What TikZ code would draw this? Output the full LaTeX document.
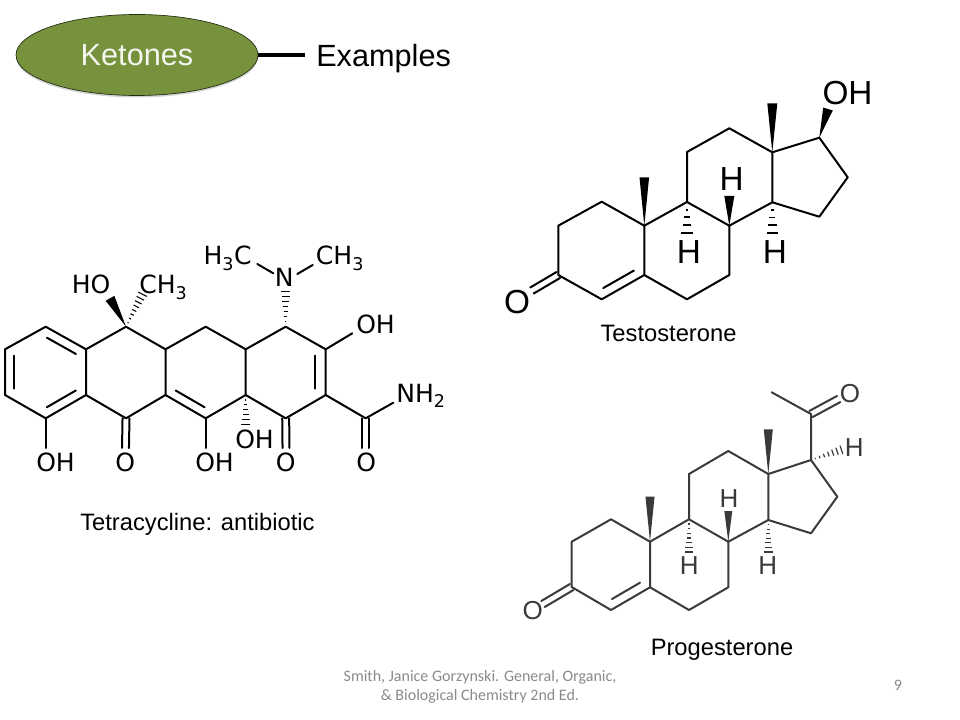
\documentclass[tikz,border=0pt]{standalone}
\usepackage{fontspec}
\setmainfont{Liberation Sans}
\newfontfamily\chemfont{DejaVu Sans}
\newfontfamily\footfont{Carlito}
\usetikzlibrary{calc,shapes.geometric,shadows}
\definecolor{oliveleaf}{HTML}{76923C}
\definecolor{bondgray}{HTML}{3A3A3A}
\definecolor{footgray}{HTML}{8A8A8A}
\tikzset{
	bond/.style={line width=1.5pt, line cap=round, line join=round},
	chemlabel/.style={font=\chemfont\fontsize{18.8}{18.8}\selectfont, inner sep=0pt, anchor=base west},
	testolabel/.style={font=\fontsize{25}{25}\selectfont, inner sep=0pt, text depth=0pt},
	progelabel/.style={font=\fontsize{19.5}{19.5}\selectfont, inner sep=0pt, text depth=0pt, color=bondgray},
	caption/.style={font=\fontsize{17.8}{17.8}\selectfont, inner sep=0pt, text depth=0pt},
	footnote/.style={font=\footfont\fontsize{12}{14.25}\selectfont, color=footgray, inner sep=0pt}
}
\newcommand{\innerbond}[3]{\draw [bond] ($(#1)!.14!(#2)!#3!90:(#2)$) -- ($(#2)!.14!(#1)!#3!-90:(#1)$);}
\newcommand{\twinbond}[2]{
	\draw [bond] ($(#1)!2.6pt!90:(#2)$) -- ($(#2)!2.6pt!-90:(#1)$);
	\draw [bond] ($(#1)!2.6pt!-90:(#2)$) -- ($(#2)!2.6pt!90:(#1)$);
}
\newcommand{\wedgebond}[3]{\fill (#1) -- ($(#2)!#3!90:(#1)$) -- ($(#2)!#3!-90:(#1)$) -- cycle;}
\newcommand{\hashbond}[5]{
	\foreach \i in {1,...,#3} {
		\pgfmathsetmacro{\hf}{\i/(#3+.3)}
		\draw [line width=#5] ($(#1)!\hf!(#2)!\hf*#4!90:(#2)$) -- ($(#1)!\hf!(#2)!\hf*#4!-90:(#2)$);
	}
}
\begin{document}
\begin{tikzpicture}[x=0.75pt, y=-0.75pt]
	\useasboundingbox (0,0) rectangle (960,720);
	\node [ellipse, minimum width=181.5pt, minimum height=60.75pt, inner sep=0pt, text depth=0pt, fill=oliveleaf, draw=black!70!oliveleaf, line width=0.5pt, drop shadow={shadow xshift=0pt, shadow yshift=-1.5pt, opacity=0.35}, text=white!92!oliveleaf, font=\fontsize{23}{23}\selectfont] (ketones) at (137,55) {Ketones};
	\node [anchor=west, inner sep=0pt, inner xsep=8.25pt, text depth=0pt, font=\fontsize{23}{23}\selectfont] (examples) at (305,55) {Examples};
	\draw [line width=2.3pt] (ketones) -- (examples);

	\coordinate (ta1) at (45.7,326.7);
	\coordinate (ta2) at (5,349.3);
	\coordinate (ta3) at (5,395);
	\coordinate (ta4) at (45.7,418.3);
	\coordinate (ta5) at (86,395);
	\coordinate (ta6) at (86,349.3);
	\coordinate (tb1) at (126,326.7);
	\coordinate (tb2) at (165.5,349.3);
	\coordinate (tb3) at (165.5,395);
	\coordinate (tb4) at (126,418.3);
	\coordinate (tc1) at (205.7,326.7);
	\coordinate (tc2) at (205.7,418.3);
	\coordinate (td1) at (245.7,349.3);
	\coordinate (td2) at (245.7,395);
	\coordinate (te1) at (285.7,326.7);
	\coordinate (te2) at (285.7,418.3);
	\coordinate (tf1) at (325.7,349.3);
	\coordinate (tf2) at (325.7,395);
	\coordinate (tg) at (365.7,418.3);
	\coordinate (tohl) at (45.7,448);
	\coordinate (tohm) at (205.7,448);
	\coordinate (toa) at (125.5,448);
	\coordinate (tob) at (286,448);
	\coordinate (toc) at (365.7,448);
	\coordinate (tohr) at (352.3,333.3);
	\coordinate (tnh) at (393.3,402.7);
	\coordinate (tnl) at (273.3,273.3);
	\coordinate (tnr) at (297.3,274);
	\coordinate (tml) at (257.3,264);
	\coordinate (tmr) at (312.7,265);
	\coordinate (thn) at (285.7,290);
	\coordinate (tho) at (110,298.3);
	\coordinate (thm) at (143,293);
	\coordinate (thb) at (245.7,426);
	\draw [bond] (ta1) -- (ta2) -- (ta3) -- (ta4) -- (ta5) -- (ta6) -- cycle;
	\draw [bond] (ta6) -- (tb1) -- (tb2) -- (tb3) -- (tb4) -- (ta5);
	\draw [bond] (tb2) -- (tc1) -- (td1) -- (td2) -- (tc2) -- (tb3);
	\draw [bond] (td1) -- (te1) -- (tf1) -- (tf2) -- (te2) -- (td2);
	\draw [bond] (tf2) -- (tg) -- (tnh);
	\draw [bond] (tf1) -- (tohr);
	\draw [bond] (ta4) -- (tohl);
	\draw [bond] (tc2) -- (tohm);
	\draw [bond] (tml) -- (tnl);
	\draw [bond] (tnr) -- (tmr);
	\innerbond{ta1}{ta6}{-6.75pt}
	\innerbond{ta2}{ta3}{6.75pt}
	\innerbond{ta4}{ta5}{6.75pt}
	\innerbond{tb3}{tc2}{6.75pt}
	\innerbond{tf1}{tf2}{-8pt}
	\twinbond{tb4}{toa}
	\twinbond{te2}{tob}
	\twinbond{tg}{toc}
	\wedgebond{tb1}{tho}{3.75pt}
	\hashbond{tb1}{thm}{8}{3.75pt}{0.8pt}
	\hashbond{te1}{thn}{7}{3.75pt}{0.9pt}
	\hashbond{td2}{thb}{6}{3.75pt}{0.9pt}
	\node [chemlabel] (thotext) at (71.5,294) {HO};
	\node [chemlabel] (tch3a) at (139,294) {CH\textsubscript{3}};
	\node [chemlabel] (th3c) at (203.3,265) {H\textsubscript{3}C};
	\node [chemlabel] (tch3b) at (315.7,265) {CH\textsubscript{3}};
	\node [chemlabel] (tn) at (274.5,286.7) {N};
	\node [chemlabel] (toh1) at (356,333) {OH};
	\node [chemlabel] (tnh2) at (396,402.7) {NH\textsubscript{2}};
	\node [chemlabel] (toh2) at (235,448) {OH};
	\node [chemlabel] (toh3) at (36,471.7) {OH};
	\node [chemlabel] (tox1) at (115,471.7) {O};
	\node [chemlabel] (toh4) at (195,471.7) {OH};
	\node [chemlabel] (tox2) at (275.5,471.7) {O};
	\node [chemlabel] (tox3) at (356,471.7) {O};
	\node [caption, anchor=west] (tetracycline) at (80,522) {Tetracycline: antibiotic};

	\coordinate (s1) at (601.7,201.7);
	\coordinate (s2) at (558.3,225.7);
	\coordinate (s3) at (558.3,275);
	\coordinate (s4) at (601.7,299.3);
	\coordinate (s5) at (644.3,275);
	\coordinate (s10) at (644.3,225.7);
	\coordinate (s6) at (687,299.3);
	\coordinate (s7) at (729.3,275);
	\coordinate (s8) at (729.3,225.7);
	\coordinate (s9) at (687,202);
	\coordinate (s11) at (687,152);
	\coordinate (s12) at (729.3,128.3);
	\coordinate (s13) at (772.3,152.3);
	\coordinate (s14) at (772.3,202.3);
	\coordinate (s15) at (819.3,216.7);
	\coordinate (s16) at (847.7,177.3);
	\coordinate (s17) at (819.3,137.7);
	\coordinate (smeta) at (644.3,177.3);
	\coordinate (smetb) at (772.3,103.3);
	\coordinate (sohw) at (828,109);
	\coordinate (shw) at (729.3,196);
	\coordinate (shl) at (687,235);
	\coordinate (shr) at (772.3,235);
	\coordinate (sox) at (532,290.5);
	\draw [bond] (s1) -- (s2) -- (s3) -- (s4) -- (s5) -- (s10) -- cycle;
	\draw [bond] (s5) -- (s6) -- (s7) -- (s8) -- (s9) -- (s10);
	\draw [bond] (s9) -- (s11) -- (s12) -- (s13) -- (s14) -- (s8);
	\draw [bond] (s13) -- (s17) -- (s16) -- (s15) -- (s14);
	\innerbond{s4}{s5}{6.75pt}
	\twinbond{s3}{sox}
	\wedgebond{s10}{smeta}{3.6pt}
	\wedgebond{s13}{smetb}{3.75pt}
	\wedgebond{s17}{sohw}{3.75pt}
	\wedgebond{s8}{shw}{3.75pt}
	\hashbond{s9}{shl}{4}{4.6pt}{1.4pt}
	\hashbond{s14}{shr}{4}{4.6pt}{1.4pt}
	\node [testolabel] (sohtext) at (847.5,93) {OH};
	\node [testolabel] (shtop) at (731.7,179) {H};
	\node [testolabel] (shleft) at (689,252) {H};
	\node [testolabel] (shright) at (775,252) {H};
	\node [testolabel] (soxtext) at (517,302) {O};
	\node [caption] (testosterone) at (668.5,333) {Testosterone};

	\begin{scope}[color=bondgray]
		\coordinate (p1) at (611,519.3);
		\coordinate (p2) at (571.7,541.7);
		\coordinate (p3) at (571.7,587);
		\coordinate (p4) at (611,610);
		\coordinate (p5) at (650,587.3);
		\coordinate (p10) at (650,541.7);
		\coordinate (p6) at (689,610);
		\coordinate (p7) at (728.3,587.3);
		\coordinate (p8) at (728.3,541.7);
		\coordinate (p9) at (689,519.3);
		\coordinate (p11) at (689,474);
		\coordinate (p12) at (728.3,451);
		\coordinate (p13) at (768.3,474);
		\coordinate (p14) at (768.3,520);
		\coordinate (p15) at (811,533.3);
		\coordinate (p16) at (837.3,496.7);
		\coordinate (p17) at (811,460);
		\coordinate (p20) at (811,414);
		\coordinate (p21) at (771.7,392.3);
		\coordinate (pmeta) at (650,496.7);
		\coordinate (pmetb) at (768.3,429.3);
		\coordinate (phw) at (728.3,511);
		\coordinate (phr) at (842.7,449.3);
		\coordinate (phl) at (689,553.3);
		\coordinate (phm) at (768.3,553.3);
		\coordinate (pox) at (543,604);
		\coordinate (poy) at (838.7,399);
		\draw [bond] (p1) -- (p2) -- (p3) -- (p4) -- (p5) -- (p10) -- cycle;
		\draw [bond] (p5) -- (p6) -- (p7) -- (p8) -- (p9) -- (p10);
		\draw [bond] (p9) -- (p11) -- (p12) -- (p13) -- (p14) -- (p8);
		\draw [bond] (p13) -- (p17) -- (p16) -- (p15) -- (p14);
		\draw [bond] (p17) -- (p20) -- (p21);
		\innerbond{p4}{p5}{6.75pt}
		\twinbond{p3}{pox}
		\twinbond{p20}{poy}
		\wedgebond{p10}{pmeta}{3.4pt}
		\wedgebond{p13}{pmetb}{3.4pt}
		\wedgebond{p8}{phw}{3pt}
		\hashbond{p9}{phl}{7}{3.4pt}{0.9pt}
		\hashbond{p14}{phm}{7}{3.4pt}{0.9pt}
		\hashbond{p17}{phr}{7}{3.4pt}{0.9pt}
		\node [progelabel] (phtop) at (729,498.3) {H};
		\node [progelabel] (phleft) at (689.3,565.7) {H};
		\node [progelabel] (phmid) at (767.7,565.7) {H};
		\node [progelabel] (phright) at (854.3,447.3) {H};
		\node [progelabel] (poxtext) at (532.7,610.7) {O};
		\node [progelabel] (poytext) at (850,393.3) {O};
	\end{scope}
	\node [caption] (progesterone) at (722,647) {Progesterone};

	\node [footnote, align=center] (source) at (480,687) {Smith, Janice Gorzynski. General, Organic,\\ \& Biological Chemistry 2nd Ed.};
	\node [footnote] (pagenum) at (898,685) {9};
\end{tikzpicture}
\end{document}
